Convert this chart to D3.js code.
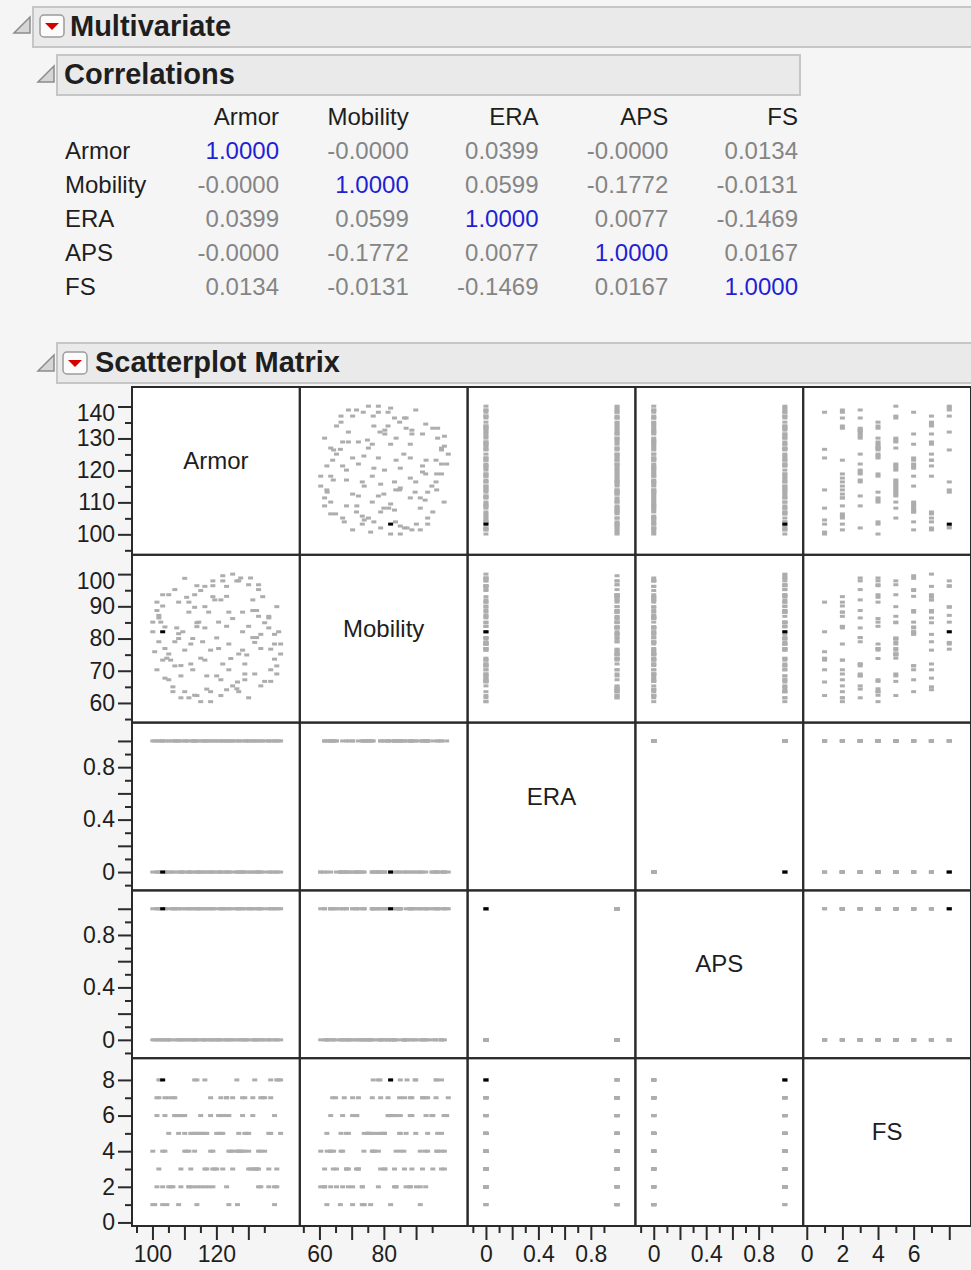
<!DOCTYPE html>
<html>
<head>
<meta charset="utf-8">
<script src="https://cdn.jsdelivr.net/npm/d3@7"></script>
<style>
  body { margin: 0; background: #f5f5f5; }
  svg text { font-family: "Liberation Sans", Arial, sans-serif; }
</style>
</head>
<body>
<svg id="chart"></svg>
<script>
// columns of the multivariate report
var varNames = ["Armor", "Mobility", "ERA", "APS", "FS"];

// correlation table, one row per variable
var corrArmor    = [1.0000, -0.00003, 0.0399, -0.00003, 0.0134];
var corrMobility = [-0.00003, 1.0000, 0.0599, -0.1772, -0.0131];
var corrERA      = [0.0399, 0.0599, 1.0000, 0.0077, -0.1469];
var corrAPS      = [-0.00003, -0.1772, 0.0077, 1.0000, 0.0167];
var corrFS       = [0.0134, -0.0131, -0.1469, 0.0167, 1.0000];

// data table
var armor = [140.1,140.1,139.5,138.9,138.9,138.9,138.2,138.2,138.2,137.0,
  137.0,137.0,136.4,136.4,136.4,135.1,135.1,134.5,133.9,133.9,
  133.9,133.2,133.2,133.2,132.6,132.6,132.0,132.0,131.4,131.4,
  131.4,130.7,130.1,130.1,130.1,129.5,128.9,128.9,128.9,128.2,
  128.2,128.2,127.6,127.0,127.0,126.6,126.4,126.4,127.0,125.1,
  125.1,125.1,124.5,123.9,123.9,123.9,123.2,123.2,123.2,123.2,
  122.0,122.0,122.0,121.4,121.4,121.4,120.7,120.7,120.1,120.1,
  119.5,118.9,118.9,118.9,118.2,118.2,118.2,117.6,117.0,117.0,
  116.4,116.4,116.4,116.4,115.7,115.1,115.1,115.1,114.5,113.9,
  113.9,113.9,113.9,113.2,113.2,113.2,112.6,112.6,112.0,112.0,
  111.4,111.4,110.7,111.4,110.1,110.1,110.1,109.5,108.9,108.9,
  108.9,108.2,108.2,108.2,107.6,107.0,107.0,106.4,106.4,105.7,
  107.0,105.1,105.1,105.1,104.5,103.9,103.9,103.9,103.2,103.2,
  103.2,103.2,102.6,102.0,102.0,102.0,101.4,101.4,101.4,100.7,
  100.1,100.1];
var mobility = [75.2,78.3,82.1,69.0,71.5,89.9,73.6,78.3,81.3,66.7,
  70.3,76.7,83.3,86.4,86.9,66.7,84.9,93.0,65.3,76.9,
  81.3,86.9,95.2,96.7,80.3,88.7,69.0,78.8,80.3,88.7,
  92.0,98.8,61.6,83.8,96.7,74.9,67.2,69.0,72.1,76.4,
  82.1,88.2,98.8,63.5,75.2,66.5,64.4,97.9,97.9,65.3,
  86.2,100.0,73.8,70.3,78.3,88.2,64.1,83.8,93.1,96.2,
  72.1,97.9,99.5,62.3,67.2,92.0,76.9,85.1,68.4,80.2,
  92.0,93.0,97.9,96.4,60.4,63.5,76.4,88.2,64.3,68.4,
  73.3,83.3,89.9,96.2,79.0,60.4,73.9,94.9,85.1,62.3,
  83.7,84.9,96.4,62.4,93.6,89.7,70.3,80.0,72.1,78.3,
  88.2,91.3,92.8,61.6,63.5,76.4,98.7,82.1,61.6,68.4,
  71.6,91.3,80.0,81.5,83.3,71.5,79.0,63.5,65.0,73.3,
  95.2,67.2,75.2,93.6,73.9,76.9,83.6,67.7,73.3,82.1,
  90.1,93.6,85.1,79.0,86.4,87.2,70.3,88.7,91.3,75.9,
  82.1,85.1];
var era = [1,0,1,0,0,1,1,0,1,0, 0,1,1,0,1,0,1,1,0,0,
  1,0,0,1,1,0,1,0,0,1, 1,0,1,0,1,1,0,0,1,0,
  0,1,0,1,1,0,1,0,0,1, 1,0,1,1,0,0,1,0,1,0,
  0,1,1,0,1,0,0,1,1,0, 1,0,1,0,0,1,0,1,1,0,
  0,1,1,0,1,0,1,0,0,1, 1,0,0,1,1,0,1,1,0,0,
  1,0,1,0,1,1,0,0,1,0, 0,1,0,1,1,0,1,0,1,0,
  1,0,1,1,0,0,1,0,1,0, 0,1,1,0,1,0,0,1,0,1,
  0,1];
var aps = [0,1,1,0,1,0,0,1,1,0, 1,1,0,0,1,0,1,0,1,1,
  0,0,1,1,0,1,0,0,1,1, 0,1,0,1,1,0,1,0,0,1,
  1,0,0,1,0,1,1,0,1,0, 0,1,1,0,0,1,0,1,1,0,
  1,0,1,0,1,1,0,0,1,0, 0,1,0,1,0,0,1,1,0,1,
  1,0,1,0,0,1,1,0,1,0, 0,1,1,0,1,0,0,1,0,1,
  1,0,0,1,1,0,1,0,1,0, 0,1,1,0,0,1,0,1,1,0,
  1,0,0,1,0,1,1,0,0,1, 1,0,1,1,0,0,1,0,1,0,
  0,1];
var fs = [5,8,8,2,3,8,1,2,6,5, 7,8,2,3,5,4,7,7,2,4,
  7,2,3,4,3,3,3,8,3,6, 7,3,3,4,5,5,4,5,7,4,
  6,7,4,4,5,1,4,8,4,3, 4,7,4,1,4,6,7,2,6,7,
  3,5,6,5,6,7,5,6,3,5, 3,2,3,4,4,6,7,2,3,5,
  2,3,5,8,5,2,5,6,5,1, 2,5,8,4,5,8,2,5,3,5,
  2,4,4,2,4,5,6,6,2,3, 6,1,5,6,6,6,7,2,7,2,
  6,2,5,7,1,4,6,7,1,8, 2,4,8,3,7,8,6,7,2,1,
  1,4];
var selectedRow = 129; // the one highlighted (black) row

// axis ticks and labels per variable
var armorMinor = [95, 105, 115, 125, 135], armorMajorY = [100, 110, 120, 130, 140], armorMajorX = [100, 110, 120, 130];
var armorLabelsY = [100, 110, 120, 130, 140], armorLabelsX = [100, 120];
var mobMinor = [55, 65, 75, 85, 95], mobMajorY = [60, 70, 80, 90, 100], mobMajorX = [60, 70, 80, 90];
var mobLabelsY = [60, 70, 80, 90, 100], mobLabelsX = [60, 80];
var binMinor = [-0.1, 0.1, 0.3, 0.5, 0.7, 0.9], binMajorY = [0, 0.2, 0.4, 0.6, 0.8, 1.0], binMajorX = [0, 0.2, 0.4, 0.6, 0.8];
var binLabels = [0, 0.4, 0.8];
var fsMinor = [1, 3, 5, 7], fsMajor = [0, 2, 4, 6, 8];
var fsLabelsY = [0, 2, 4, 6, 8], fsLabelsX = [0, 2, 4, 6];

var columns = [armor, mobility, era, aps, fs];
var corrRows = [corrArmor, corrMobility, corrERA, corrAPS, corrFS];

var W = 971, H = 1270;
var svg = d3.select("svg#chart").attr("width", W).attr("height", H);

// ---------------- outline headers ----------------
function disclosure(x, y) {
  svg.append("path")
    .attr("d", "M" + (x + 16) + "," + y + " L" + (x + 16) + "," + (y + 16) + " L" + x + "," + (y + 16) + " Z")
    .attr("fill", "#d6d6d6").attr("stroke", "#8c8c8c").attr("stroke-width", 1.5);
}
function redButton(x, y) {
  svg.append("rect").attr("x", x).attr("y", y).attr("width", 24).attr("height", 22).attr("rx", 4)
    .attr("fill", "#fbfbfb").attr("stroke", "#9c9c9c").attr("stroke-width", 1.5);
  svg.append("path")
    .attr("d", "M" + (x + 5) + "," + (y + 8) + " L" + (x + 19) + "," + (y + 8) + " L" + (x + 12) + "," + (y + 15) + " Z")
    .attr("fill", "#d40000");
}
function header(x0, x1, y0, y1, label, textX) {
  svg.append("rect").attr("x", x0).attr("y", y0).attr("width", x1 - x0).attr("height", y1 - y0)
    .attr("fill", "#eaeaea").attr("stroke", "#c6c6c6").attr("stroke-width", 2);
  svg.append("text").attr("x", textX).attr("y", y1 - 11)
    .attr("font-size", 29).attr("font-weight", "bold").attr("fill", "#1e1e1e").text(label);
}

header(33, 990, 7, 47, "Multivariate", 70);
disclosure(14, 17); redButton(40, 15);

header(57, 800, 55, 95, "Correlations", 64);
disclosure(38, 66);

header(57, 990, 343, 383, "Scatterplot Matrix", 95);
disclosure(38, 355); redButton(63, 352);

// ---------------- correlation table ----------------
var colRight = d3.scalePoint().domain(varNames).range([279, 798]);
var rowY = d3.scalePoint().domain(varNames).range([159, 295]);

svg.append("g").selectAll("text").data(varNames).join("text")
  .attr("x", function(d) { return colRight(d); }).attr("y", 125)
  .attr("text-anchor", "end").attr("font-size", 24).attr("fill", "#1e1e1e")
  .text(function(d) { return d; });

var corrRow = svg.append("g").selectAll("g").data(corrRows).join("g")
  .attr("transform", function(d, i) { return "translate(0," + rowY(varNames[i]) + ")"; });
corrRow.append("text").attr("x", 65).attr("font-size", 24).attr("fill", "#1e1e1e")
  .text(function(d, i) { return varNames[i]; });
corrRow.selectAll("text.val").data(function(d, i) { return d.map(function(v, j) { return {v: v, diag: i === j, j: j}; }); })
  .join("text").attr("class", "val")
  .attr("x", function(d) { return colRight(varNames[d.j]); })
  .attr("text-anchor", "end").attr("font-size", 24)
  .attr("fill", function(d) { return d.diag ? "#1f1fd6" : "#858585"; })
  .text(function(d) { return d.v.toFixed(4); });

// ---------------- scatterplot matrix ----------------
var cell = 167.8, mLeft = 132, mTop = 387, n = varNames.length;
var domains = [[93.6, 146.1], [53.9, 106.0], [-0.14, 1.14], [-0.14, 1.14], [-0.2, 9.22]];
var xs = domains.map(function(d) { return d3.scaleLinear().domain(d).range([0, cell]); });
var ys = domains.map(function(d) { return d3.scaleLinear().domain(d).range([cell, 0]); });

var order = d3.range(armor.length).filter(function(k) { return k !== selectedRow; }).concat([selectedRow]);

var matrix = svg.append("g");
for (var i = 0; i < n; i++) {
  for (var j = 0; j < n; j++) {
    var g = matrix.append("g").attr("transform", "translate(" + (mLeft + j * cell) + "," + (mTop + i * cell) + ")");
    g.append("rect").attr("width", cell).attr("height", cell).attr("fill", "#ffffff");
    if (i === j) {
      g.append("text").attr("x", cell / 2).attr("y", 82).attr("text-anchor", "middle")
        .attr("font-size", 24).attr("fill", "#1e1e1e").text(varNames[i]);
      continue;
    }
    (function(i, j, g) {
      g.selectAll("rect.pt").data(order).join("rect").attr("class", "pt")
        .attr("x", function(k) { return xs[j](columns[j][k]) - 2.5; })
        .attr("y", function(k) { return ys[i](columns[i][k]) - 1.5; })
        .attr("width", 5).attr("height", 3)
        .attr("fill", function(k) { return k === selectedRow ? "#000000" : "#adadad"; });
    })(i, j, g);
  }
}

// cell frames
for (var i = 0; i < n; i++) {
  for (var j = 0; j < n; j++) {
    matrix.append("rect").attr("x", mLeft + j * cell).attr("y", mTop + i * cell)
      .attr("width", cell).attr("height", cell)
      .attr("fill", "none").attr("stroke", "#2a2a2a").attr("stroke-width", 2);
  }
}

// axes
var axisSpec = [
  {minor: armorMinor, majorY: armorMajorY, majorX: armorMajorX, labY: armorLabelsY, labX: armorLabelsX},
  {minor: mobMinor, majorY: mobMajorY, majorX: mobMajorX, labY: mobLabelsY, labX: mobLabelsX},
  {minor: binMinor, majorY: binMajorY, majorX: binMajorX, labY: binLabels, labX: binLabels},
  {minor: binMinor, majorY: binMajorY, majorX: binMajorX, labY: binLabels, labX: binLabels},
  {minor: fsMinor, majorY: fsMajor, majorX: fsMajor, labY: fsLabelsY, labX: fsLabelsX}
];
// top labels nudged down like the original
var labelNudge = {"0:140": 7, "1:100": 7};
var fmt = d3.format("~g");

function styleAxis(sel) {
  sel.select(".domain").remove();
  sel.selectAll("line").attr("stroke", "#2a2a2a").attr("stroke-width", 2);
  sel.selectAll("text").attr("font-size", 23).attr("fill", "#1e1e1e")
    .attr("font-family", "'Liberation Sans', Arial, sans-serif");
}

axisSpec.forEach(function(s, i) {
  var gy = svg.append("g").attr("transform", "translate(" + mLeft + "," + (mTop + i * cell) + ")");
  gy.append("g").call(d3.axisLeft(ys[i]).tickValues(s.minor).tickSize(7).tickFormat("")).call(styleAxis);
  gy.append("g").call(d3.axisLeft(ys[i]).tickValues(s.majorY).tickSize(14).tickPadding(3)
      .tickFormat(function(d) { return s.labY.indexOf(d) >= 0 ? fmt(d) : ""; }))
    .call(styleAxis)
    .selectAll("text").attr("dy", function(d) { return (0.32 * 23 + (labelNudge[i + ":" + d] || 0)) + "px"; });

  var gx = svg.append("g").attr("transform", "translate(" + (mLeft + i * cell) + "," + (mTop + n * cell) + ")");
  gx.append("g").call(d3.axisBottom(xs[i]).tickValues(s.minor).tickSize(7).tickFormat("")).call(styleAxis);
  gx.append("g").call(d3.axisBottom(xs[i]).tickValues(s.majorX).tickSize(14).tickPadding(6)
      .tickFormat(function(d) { return s.labX.indexOf(d) >= 0 ? fmt(d) : ""; }))
    .call(styleAxis);
});
</script>
</body>
</html>
